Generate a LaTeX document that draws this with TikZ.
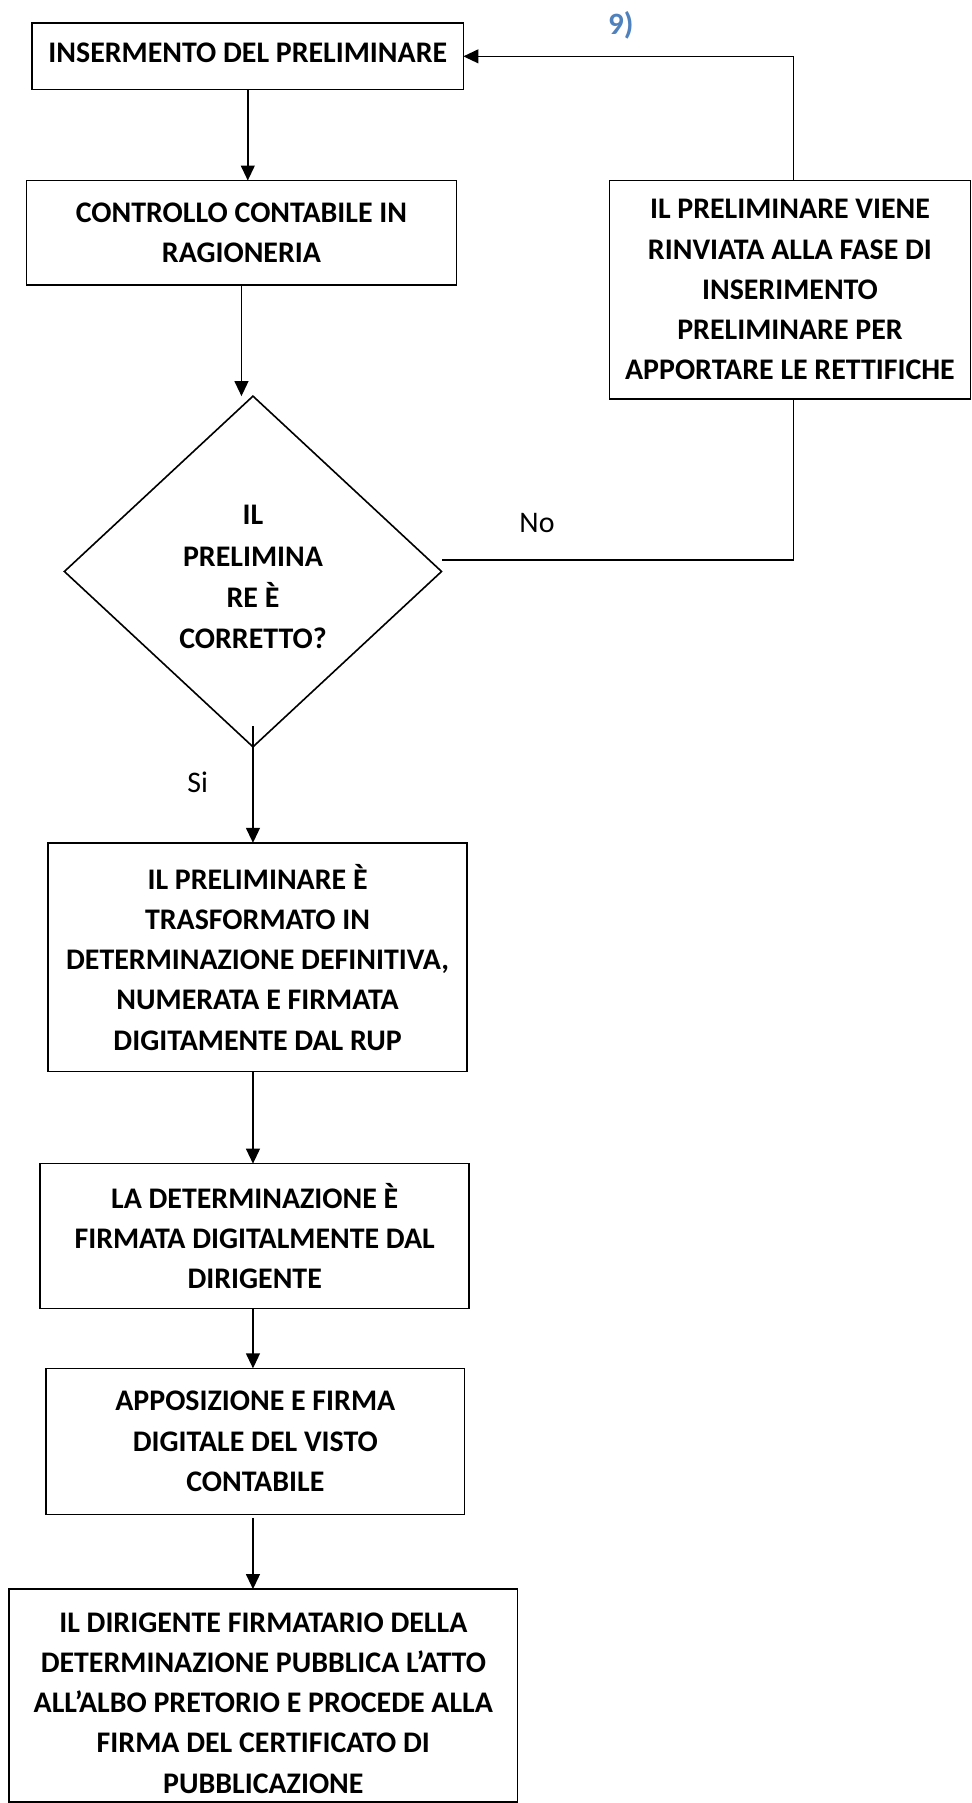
\documentclass[tikz,border=0pt]{standalone}
\usepackage{fontspec}
\setmainfont{Carlito}
\usetikzlibrary{shapes.geometric,arrows.meta}
\definecolor{headblue}{HTML}{4F81BD}
\begin{document}
\begin{tikzpicture}[x=0.5pt,y=-0.5pt,
  box/.style={draw,rectangle,line width=0.7pt,inner sep=0pt,outer sep=0pt,align=center,
     font=\fontsize{13}{17.5}\selectfont\bfseries},
  txt/.style={inner sep=0pt,align=center,font=\fontsize{13}{17.5}\selectfont\bfseries},
  dec/.style={draw,diamond,line width=0.7pt,inner sep=0pt,outer sep=0pt},
  conn/.style={line width=0.7pt},
  arr/.style={line width=0.7pt,-{Triangle[length=6.5pt,width=6pt]}},
  lbl/.style={font=\fontsize{13}{16}\selectfont,inner sep=0pt}]
\useasboundingbox (0,0) rectangle (845,1568);

\node[box,minimum width=187.5pt,minimum height=29pt] (B1) at (215.5,49) {};
\node[txt] (T1) at (215.5,46) {INSERMENTO DEL PRELIMINARE};
\node[box,minimum width=187pt,minimum height=45.5pt] (B2) at (210,202.5)
  {CONTROLLO CONTABILE IN\\RAGIONERIA};
\node[box,minimum width=157pt,minimum height=95pt] (R) at (687,252)
  {IL PRELIMINARE VIENE\\RINVIATA ALLA FASE DI\\INSERIMENTO\\PRELIMINARE PER\\APPORTARE LE RETTIFICHE};
\node[dec,minimum width=164pt,minimum height=152.5pt] (D) at (220,497) {};
\node[txt,font=\fontsize{13}{18}\selectfont\bfseries] (TD) at (220,502)
  {IL\\PRELIMINA\\RE È\\CORRETTO?};
\node[box,minimum width=182pt,minimum height=99.5pt] (B3) at (224,832.5)
  {IL PRELIMINARE È\\TRASFORMATO IN\\DETERMINAZIONE DEFINITIVA,\\NUMERATA E FIRMATA\\DIGITAMENTE DAL RUP};
\node[box,minimum width=186.5pt,minimum height=63pt] (B4) at (221.5,1075)
  {LA DETERMINAZIONE È\\FIRMATA DIGITALMENTE DAL\\DIRIGENTE};
\node[box,minimum width=182pt,minimum height=63.5pt] (B5) at (222,1253.5)
  {APPOSIZIONE E FIRMA\\DIGITALE DEL VISTO\\CONTABILE};
\node[box,minimum width=221pt,minimum height=92.5pt] (B6) at (229,1474.5) {};
\node[txt] (T6) at (229,1481)
  {IL DIRIGENTE FIRMATARIO DELLA\\DETERMINAZIONE PUBBLICA L’ATTO\\ALL’ALBO PRETORIO E PROCEDE ALLA\\FIRMA DEL CERTIFICATO DI\\PUBBLICAZIONE};

\node[lbl,text=headblue,font=\fontsize{13.5}{16}\selectfont\bfseries] (L9) at (540,22) {9)};
\node[lbl] (LNo) at (467,455) {No};
\node[lbl] (LSi) at (172,680) {Si};

\coordinate (Rs) at (690,347);
\coordinate (Rn) at (690,157);
\draw[arr] (B1.south) -- (B1.south |- B2.north);
\draw[arr] (B2.south) -- (B2.south |- D.north);
\draw[arr] (Rn) |- (B1.east);
\draw[conn] (Rs) |- ([yshift=5pt]D.east);
\draw[arr] ([yshift=9pt]D.south) -- (D.south |- B3.north);
\draw[arr] (D.south |- B3.south) -- (D.south |- B4.north);
\draw[arr] (D.south |- B4.south) -- (D.south |- B5.north);
\draw[arr] ([yshift=-1.5pt]D.south |- B5.south) -- (D.south |- B6.north);
\end{tikzpicture}
\end{document}
